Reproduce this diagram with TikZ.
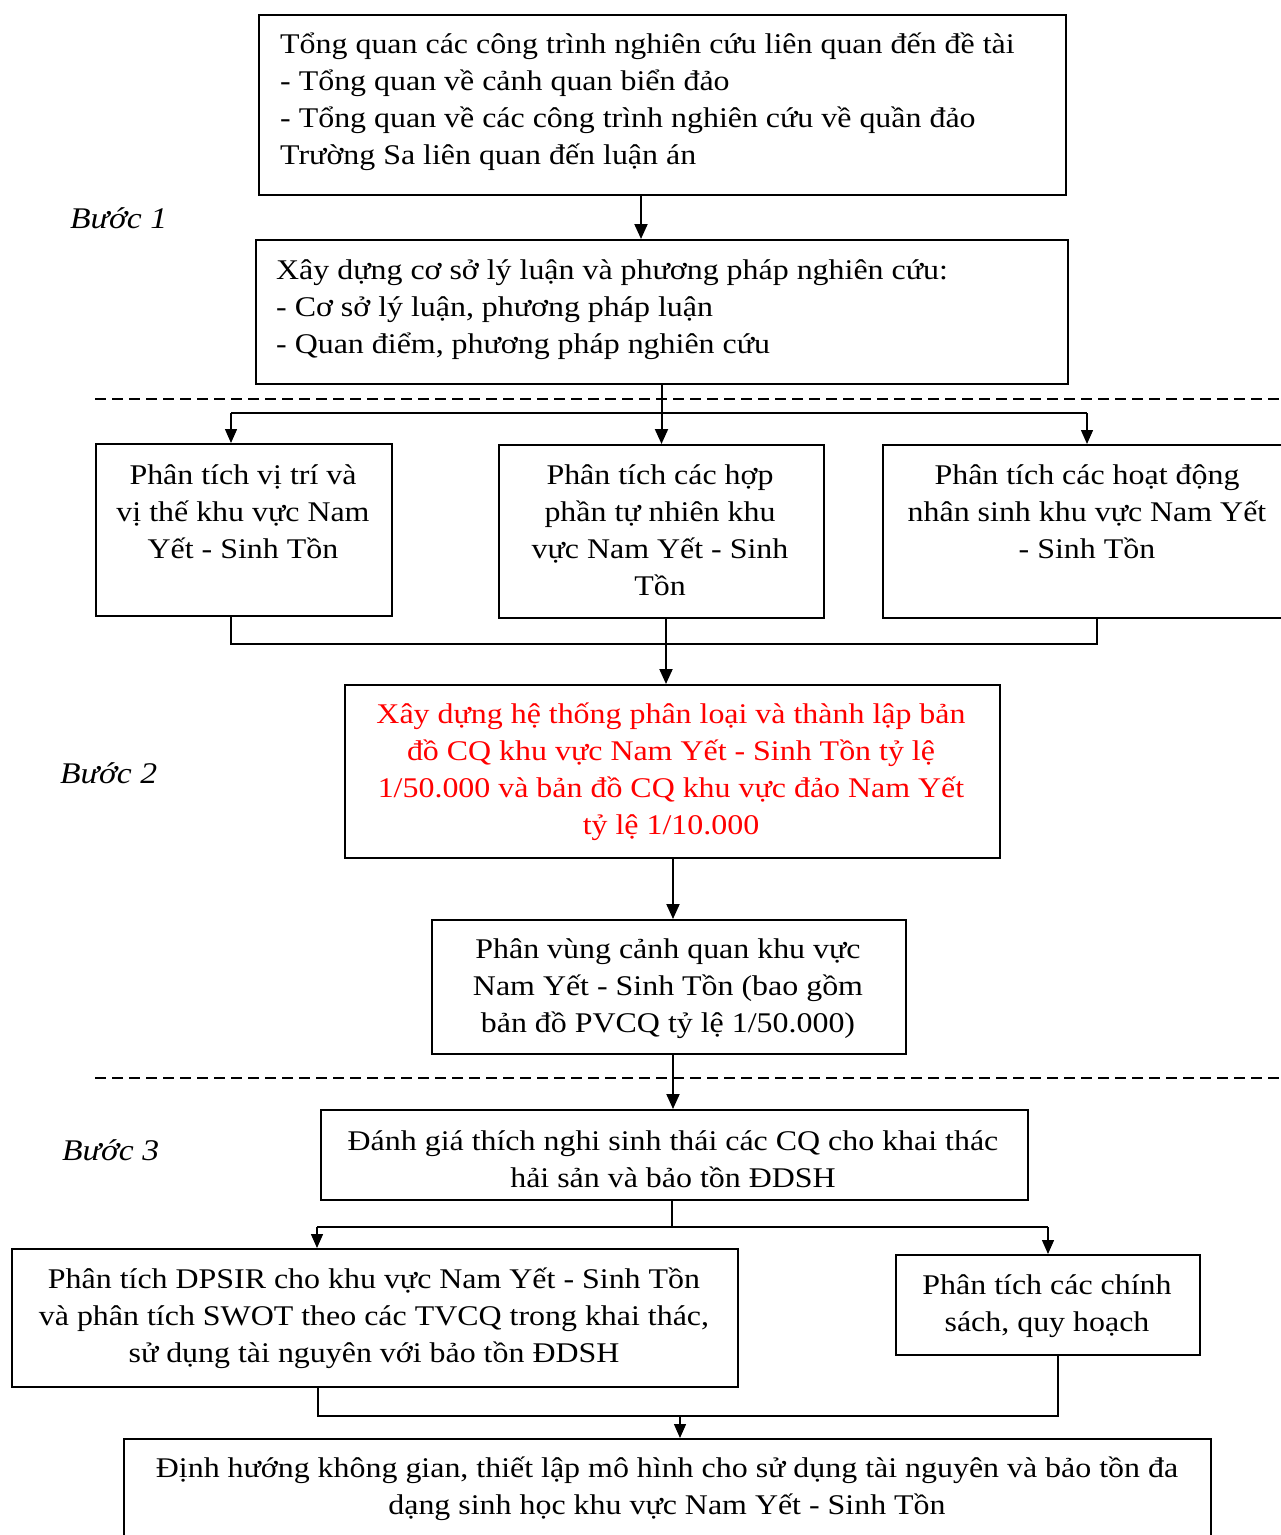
\documentclass[tikz,border=0pt]{standalone}
\usepackage{fontspec}
\setmainfont{Liberation Serif}[FakeStretch=1.12]
\usetikzlibrary{arrows.meta}
\newcommand\fst{\rule{0pt}{30pt}}
\begin{document}
\begin{tikzpicture}[x=1pt,y=-1pt,
  box/.style={draw,line width=2pt,rectangle,inner sep=0pt,anchor=north west},
  txt/.style={inner sep=0pt,font=\fontsize{28.5}{37}\selectfont,anchor=north,align=center},
  ltxt/.style={inner sep=0pt,font=\fontsize{28.5}{37}\selectfont,anchor=north west,align=left},
  steplbl/.style={inner sep=0pt,font=\fontsize{30}{37}\selectfont\itshape,anchor=base west},
  arr/.style={-{Triangle[length=15pt,width=13pt]},line width=2pt},
  arrthin/.style={-{Triangle[length=14pt,width=12pt]},line width=1.4pt},
  thinline/.style={line width=1.2pt},
  dashline/.style={line width=2pt,dash pattern=on 11pt off 6pt}
]
\useasboundingbox (0,0) rectangle (1281,1535);

% boxes
\node[box,minimum width=807pt,minimum height=180pt] (A) at (258,14) {};
\node[box,minimum width=812pt,minimum height=144pt] (B) at (255,239) {};
\node[box,minimum width=296pt,minimum height=172pt] (D1) at (95,443) {};
\node[box,minimum width=325pt,minimum height=173pt] (D2) at (498,444) {};
\node[box,minimum width=410pt,minimum height=173pt] (D3) at (882,444) {};
\node[box,minimum width=655pt,minimum height=173pt] (E) at (344,684) {};
\node[box,minimum width=474pt,minimum height=134pt] (F) at (431,919) {};
\node[box,minimum width=707pt,minimum height=90pt] (G) at (320,1109) {};
\node[box,minimum width=726pt,minimum height=138pt] (H1) at (11,1248) {};
\node[box,minimum width=304pt,minimum height=100pt] (H2) at (895,1254) {};
\node[box,minimum width=1087pt,minimum height=110pt] (I) at (123,1438) {};

% texts
\node[ltxt] (tA) at (280,23) {\fst Tổng quan các công trình nghiên cứu liên quan đến đề tài\\- Tổng quan về cảnh quan biển đảo\\- Tổng quan về các công trình nghiên cứu về quần đảo\\Trường Sa liên quan đến luận án};
\node[ltxt] (tB) at (276,249) {\fst Xây dựng cơ sở lý luận và phương pháp nghiên cứu:\\- Cơ sở lý luận, phương pháp luận\\- Quan điểm, phương pháp nghiên cứu};
\node[txt] (tD1) at (243,454) {\fst Phân tích vị trí và\\vị thế khu vực Nam\\Yết - Sinh Tồn};
\node[txt] (tD2) at (660,454) {\fst Phân tích các hợp\\phần tự nhiên khu\\vực Nam Yết - Sinh\\Tồn};
\node[txt] (tD3) at (1087,454) {\fst Phân tích các hoạt động\\nhân sinh khu vực Nam Yết\\- Sinh Tồn};
\node[txt,text=red] (tE) at (671,693) {\fst Xây dựng hệ thống phân loại và thành lập bản\\đồ CQ khu vực Nam Yết - Sinh Tồn tỷ lệ\\1/50.000 và bản đồ CQ khu vực đảo Nam Yết\\tỷ lệ 1/10.000};
\node[txt] (tF) at (668,928) {\fst Phân vùng cảnh quan khu vực\\Nam Yết - Sinh Tồn (bao gồm\\bản đồ PVCQ tỷ lệ 1/50.000)};
\node[txt] (tG) at (673,1120) {\fst Đánh giá thích nghi sinh thái các CQ cho khai thác\\hải sản và bảo tồn ĐDSH};
\node[txt] (tH1) at (374,1258) {\fst Phân tích DPSIR cho khu vực Nam Yết - Sinh Tồn\\và phân tích SWOT theo các TVCQ trong khai thác,\\sử dụng tài nguyên với bảo tồn ĐDSH};
\node[txt] (tH2) at (1047,1264) {\fst Phân tích các chính\\sách, quy hoạch};
\node[txt] (tI) at (667,1447) {\fst Định hướng không gian, thiết lập mô hình cho sử dụng tài nguyên và bảo tồn đa\\dạng sinh học khu vực Nam Yết - Sinh Tồn};

% step labels
\node[steplbl] (s1) at (70,228) {Bước 1};
\node[steplbl] (s2) at (60,783) {Bước 2};
\node[steplbl] (s3) at (62,1160) {Bước 3};

% dashed separators
\coordinate (da1) at (95,399); \coordinate (da2) at (1281,399);
\coordinate (db1) at (95,1078); \coordinate (db2) at (1281,1078);
\draw[dashline] (da1) -- (da2);
\draw[dashline] (db1) -- (db2);

% connectors
\draw[arr] (A.south -| 641,0) -- (B.north -| 641,0);
\coordinate (j1) at (231,413); \coordinate (j2) at (1087,413);
\draw[thinline] (j1) -- (j2);
\draw[arr] (B.south -| D2.north) -- (D2.north);
\draw[arrthin] (j1) -- (D1.north -| j1);
\draw[arrthin] (j2) -- (D3.north -| j2);
\coordinate (k1) at (231,644); \coordinate (k2) at (1097,644);
\draw[thinline] (D1.south -| k1) -- (k1) -- (k2) -- (D3.south -| k2);
\draw[arr] (D2.south -| 666,0) -- (E.north -| 666,0);
\draw[arr] (E.south -| 673,0) -- (F.north -| 673,0);
\draw[arr] (F.south -| 673,0) -- (G.north -| 673,0);
\coordinate (m) at (672,1227); \coordinate (m1) at (317,1227); \coordinate (m2) at (1048,1227);
\draw[thinline] (G.south -| m) -- (m);
\draw[thinline] (m1) -- (m2);
\draw[arrthin] (m1) -- (H1.north -| m1);
\draw[arrthin] (m2) -- (H2.north -| m2);
\coordinate (n1) at (318,1416); \coordinate (n2) at (1058,1416); \coordinate (n) at (680,1416);
\draw[thinline] (H1.south -| n1) -- (n1) -- (n2) -- (H2.south -| n2);
\draw[arrthin] (n) -- (I.north -| n);
\end{tikzpicture}
\end{document}
